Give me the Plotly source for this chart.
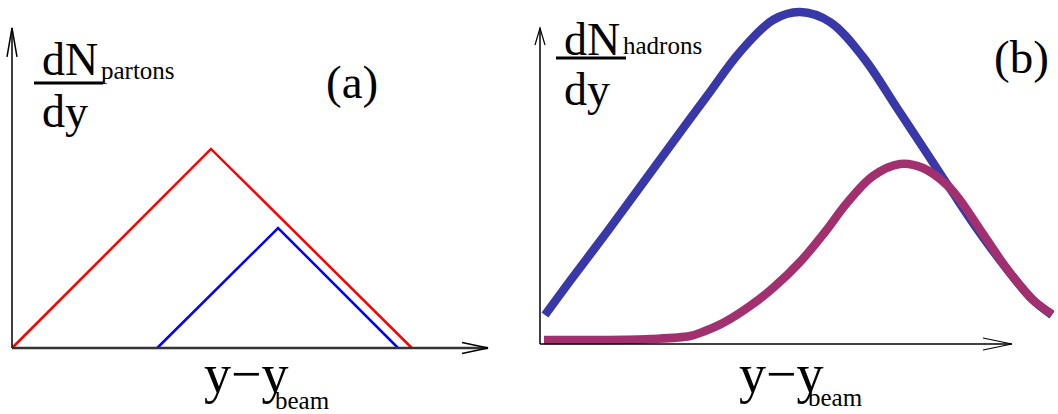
import plotly.graph_objects as go

W, H = 1058, 414
SERIF = "Liberation Serif"

# ---------------- data (panel a: partons) ----------------
red_x = [0.0, 4.18, 8.40]
red_y = [0.0, 6.22, 0.0]
blue_a_x = [3.05, 5.59, 8.11]
blue_a_y = [0.0, 3.75, 0.0]

# ---------------- data (panel b: hadrons) ----------------
blue_b_x = [0.106, 0.699, 1.419, 2.119, 2.818, 3.538, 4.237, 4.936, 5.508,
            6.144, 6.843, 7.564, 8.263, 8.750, 9.322, 9.958, 10.445, 10.847]
blue_b_y = [0.918, 2.120, 3.544, 4.968, 6.392, 7.848, 9.241, 10.253, 10.506,
            10.190, 9.082, 7.468, 5.886, 4.778, 3.513, 2.247, 1.392, 0.918]
purple_x = [0.085, 1.271, 2.331, 3.178, 3.496, 3.877, 4.449, 4.936, 5.508, 6.038,
            6.504, 7.055, 7.627, 8.114, 8.623, 8.898, 9.386, 9.958, 10.445, 10.847]
purple_y = [0.127, 0.127, 0.158, 0.253, 0.411, 0.665, 1.203, 1.772, 2.595, 3.544,
            4.462, 5.316, 5.696, 5.570, 5.032, 4.557, 3.481, 2.247, 1.392, 0.949]

labels_a = ["dN", "partons", "dy", "(a)"]
labels_b = ["dN", "hadrons", "dy", "(b)"]
xlabel = ["y\u2212y", "beam"]

fig = go.Figure()

fig.add_trace(go.Scatter(x=red_x, y=red_y, mode="lines",
                         line=dict(color="#ff0000", width=2.5), xaxis="x", yaxis="y"))
fig.add_trace(go.Scatter(x=blue_a_x, y=blue_a_y, mode="lines",
                         line=dict(color="#0000ff", width=2.5), xaxis="x", yaxis="y"))
fig.add_trace(go.Scatter(x=blue_b_x, y=blue_b_y, mode="lines", line_shape="spline",
                         line=dict(color="#3838a8", width=8.5), xaxis="x2", yaxis="y2"))
fig.add_trace(go.Scatter(x=purple_x, y=purple_y, mode="lines", line_shape="spline",
                         line=dict(color="#a2306e", width=8.5), xaxis="x2", yaxis="y2"))

shapes = []
# panel a axes (data coords of subplot a)
shapes.append(dict(type="line", xref="x", yref="y", x0=0, y0=0, x1=0, y1=10,
                   line=dict(color="black", width=1.5)))
shapes.append(dict(type="line", xref="x", yref="y", x0=0, y0=0, x1=10, y1=0,
                   line=dict(color="#333333", width=2.5)))
shapes.append(dict(type="path", xref="x", yref="y",
                   path="M -0.105,9.094 L 0,10 L 0.105,9.094",
                   line=dict(color="black", width=1.5)))
shapes.append(dict(type="path", xref="x", yref="y",
                   path="M 9.454,0.17 L 10,0 L 9.454,-0.17",
                   line=dict(color="black", width=1.5)))
# panel b axes
shapes.append(dict(type="line", xref="x2", yref="y2", x0=0, y0=0, x1=0, y1=10,
                   line=dict(color="black", width=1.5)))
shapes.append(dict(type="line", xref="x2", yref="y2", x0=0, y0=0, x1=10, y1=0,
                   line=dict(color="black", width=1.5)))
shapes.append(dict(type="path", xref="x2", yref="y2",
                   path="M -0.106,9.462 L 0,10 L 0.106,9.462",
                   line=dict(color="black", width=1.2)))
shapes.append(dict(type="path", xref="x2", yref="y2",
                   path="M 9.386,0.19 L 10,0 L 9.386,-0.19",
                   line=dict(color="black", width=1.2)))


def px(x):
    return x / W


def py(y):
    return 1 - y / H


# fraction bars
shapes.append(dict(type="line", xref="paper", yref="paper", x0=px(34), x1=px(103),
                   y0=py(83), y1=py(83), line=dict(color="black", width=3)))
shapes.append(dict(type="line", xref="paper", yref="paper", x0=px(556), x1=px(626),
                   y0=py(58), y1=py(58), line=dict(color="black", width=3)))


def ann(text, x, yc, size, xanchor="left"):
    return dict(text=text, x=px(x), y=py(yc), xref="paper", yref="paper",
                xanchor=xanchor, yanchor="middle", showarrow=False,
                font=dict(family=SERIF, size=size, color="black"))


annotations = [
    ann(labels_a[0], 40, 59.5, 46),
    ann(labels_a[1], 99, 70.6, 25),
    ann(labels_a[2], 40, 112, 46),
    ann(labels_a[3], 352, 82, 47, "center"),
    ann(xlabel[0], 202, 374, 54),
    ann(xlabel[1], 273, 400, 25),
    ann(labels_b[0], 562, 39.5, 46),
    ann(labels_b[1], 621, 45.6, 25),
    ann(labels_b[2], 562, 89, 46),
    ann(labels_b[3], 1021, 57, 47, "center"),
    ann(xlabel[0], 737, 374, 54),
    ann(xlabel[1], 806, 397, 25),
]

fig.update_layout(
    width=W, height=H,
    margin=dict(l=0, r=0, t=0, b=0),
    paper_bgcolor="white", plot_bgcolor="white",
    showlegend=False,
    hovermode=False,
    xaxis=dict(domain=[0, 520 / W], range=[-0.2521, 10.672], visible=False),
    yaxis=dict(domain=[0, 1], range=[-2.0625, 10.875], visible=False),
    xaxis2=dict(domain=[520 / W, 1], range=[-0.4237, 10.975], visible=False),
    yaxis2=dict(domain=[0, 1], range=[-2.2152, 10.886], visible=False, anchor="x2"),
    shapes=shapes,
    annotations=annotations,
)

fig.write_html("out.html",
               config={"displayModeBar": False},
               post_script="document.body.style.margin='0';"
                           "document.body.style.overflow='hidden';")
